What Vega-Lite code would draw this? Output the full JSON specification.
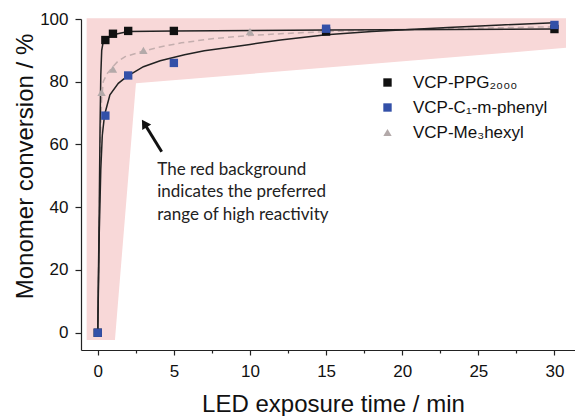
{
  "$schema": "https://vega.github.io/schema/vega-lite/v6.json",
  "width": 494,
  "height": 331,
  "autosize": {"type": "none"},
  "padding": {"left": 81, "top": 19, "right": 0, "bottom": 66},
  "background": "white",
  "config": {
    "view": {"stroke": null},
    "font": "Liberation Sans, Arial, sans-serif",
    "axis": {"grid": false, "domainColor": "#222222", "domainWidth": 1.2, "tickColor": "#222222", "tickWidth": 1.2, "labelColor": "#111111", "titleColor": "#111111", "labelFont": "Liberation Sans, Arial, sans-serif", "titleFont": "Liberation Sans, Arial, sans-serif", "labelFontSize": 17, "titleFontSize": 24, "titleFontWeight": "normal"}
  },
  "datasets": {
    "bg": [
      {"t": -0.73, "lo": -2.3, "hi": 100.2},
      {"t": 1.13, "lo": -2.3, "hi": 100.2},
      {"t": 2.51, "lo": 79.5, "hi": 100.2},
      {"t": 30.76, "lo": 90.8, "hi": 100.2}
    ],
    "fits": [
      {"curve": "ppg", "t": 0, "v": 0},
      {"curve": "ppg", "t": 0.05, "v": 20},
      {"curve": "ppg", "t": 0.1, "v": 40},
      {"curve": "ppg", "t": 0.15, "v": 65},
      {"curve": "ppg", "t": 0.2, "v": 82},
      {"curve": "ppg", "t": 0.26, "v": 90},
      {"curve": "ppg", "t": 0.35, "v": 92.5},
      {"curve": "ppg", "t": 0.5, "v": 93.5},
      {"curve": "ppg", "t": 1, "v": 95},
      {"curve": "ppg", "t": 2, "v": 96},
      {"curve": "ppg", "t": 5, "v": 96.2},
      {"curve": "ppg", "t": 15, "v": 96.5},
      {"curve": "ppg", "t": 30, "v": 96.8},
      {"curve": "phenyl", "t": 0, "v": 0},
      {"curve": "phenyl", "t": 0.05, "v": 16},
      {"curve": "phenyl", "t": 0.1, "v": 32},
      {"curve": "phenyl", "t": 0.2, "v": 52},
      {"curve": "phenyl", "t": 0.3, "v": 63},
      {"curve": "phenyl", "t": 0.45, "v": 69.5},
      {"curve": "phenyl", "t": 0.8, "v": 75.8},
      {"curve": "phenyl", "t": 1.35, "v": 79.5},
      {"curve": "phenyl", "t": 1.9, "v": 81.6},
      {"curve": "phenyl", "t": 3, "v": 84.8},
      {"curve": "phenyl", "t": 4.1, "v": 86.7},
      {"curve": "phenyl", "t": 5.7, "v": 88.6},
      {"curve": "phenyl", "t": 7, "v": 89.9},
      {"curve": "phenyl", "t": 8.7, "v": 91},
      {"curve": "phenyl", "t": 10, "v": 91.9},
      {"curve": "phenyl", "t": 12, "v": 93.3},
      {"curve": "phenyl", "t": 15, "v": 95},
      {"curve": "phenyl", "t": 18, "v": 96},
      {"curve": "phenyl", "t": 23, "v": 97.3},
      {"curve": "phenyl", "t": 26.5, "v": 98.1},
      {"curve": "phenyl", "t": 30, "v": 98.8},
      {"curve": "hexyl", "t": 0, "v": 0},
      {"curve": "hexyl", "t": 0.05, "v": 18},
      {"curve": "hexyl", "t": 0.1, "v": 36},
      {"curve": "hexyl", "t": 0.17, "v": 60},
      {"curve": "hexyl", "t": 0.25, "v": 74},
      {"curve": "hexyl", "t": 0.36, "v": 80},
      {"curve": "hexyl", "t": 0.6, "v": 82.5},
      {"curve": "hexyl", "t": 0.91, "v": 84.3},
      {"curve": "hexyl", "t": 1.3, "v": 86.4},
      {"curve": "hexyl", "t": 1.8, "v": 88},
      {"curve": "hexyl", "t": 2.95, "v": 89.7},
      {"curve": "hexyl", "t": 4, "v": 91},
      {"curve": "hexyl", "t": 5.5, "v": 92.4},
      {"curve": "hexyl", "t": 7.5, "v": 93.7},
      {"curve": "hexyl", "t": 9.8, "v": 94.7},
      {"curve": "hexyl", "t": 12, "v": 95.3},
      {"curve": "hexyl", "t": 15, "v": 96},
      {"curve": "hexyl", "t": 20, "v": 96.6},
      {"curve": "hexyl", "t": 25, "v": 97.1},
      {"curve": "hexyl", "t": 30, "v": 97.5}
    ],
    "pts": [
      {"series": "VCP-PPG₂₀₀₀", "t": 0, "v": 0},
      {"series": "VCP-PPG₂₀₀₀", "t": 0.5, "v": 93.3},
      {"series": "VCP-PPG₂₀₀₀", "t": 1, "v": 95.3},
      {"series": "VCP-PPG₂₀₀₀", "t": 2, "v": 96.2},
      {"series": "VCP-PPG₂₀₀₀", "t": 5, "v": 96.2},
      {"series": "VCP-PPG₂₀₀₀", "t": 15, "v": 96},
      {"series": "VCP-PPG₂₀₀₀", "t": 30, "v": 96.8},
      {"series": "VCP-Me₃hexyl", "t": 0.25, "v": 76.6},
      {"series": "VCP-Me₃hexyl", "t": 1, "v": 84},
      {"series": "VCP-Me₃hexyl", "t": 3, "v": 90},
      {"series": "VCP-Me₃hexyl", "t": 10, "v": 96},
      {"series": "VCP-C₁-m-phenyl", "t": 0, "v": 0},
      {"series": "VCP-C₁-m-phenyl", "t": 0.5, "v": 69.2},
      {"series": "VCP-C₁-m-phenyl", "t": 2, "v": 82},
      {"series": "VCP-C₁-m-phenyl", "t": 5, "v": 86},
      {"series": "VCP-C₁-m-phenyl", "t": 15, "v": 96.9},
      {"series": "VCP-C₁-m-phenyl", "t": 30, "v": 98.1}
    ],
    "arrow": [
      {"t": 4.2, "v": 57.7, "t2": 3.06, "v2": 66.7}
    ],
    "note": [
      {"t": 3.91, "v": 50.3, "label": "The red background\nindicates the preferred\nrange of high reactivity"}
    ]
  },
  "layer": [
    {
      "data": {"name": "bg"},
      "mark": {"type": "area", "color": "#f8d8d8", "opacity": 1, "interpolate": "linear"},
      "encoding": {
        "x": {"field": "t", "type": "quantitative", "scale": {"domain": [-1.1, 31.35], "nice": false, "zero": false},
          "axis": {
            "values": [0, 2.5, 5, 7.5, 10, 12.5, 15, 17.5, 20, 22.5, 25, 27.5, 30],
            "labelExpr": "datum.value % 5 === 0 ? datum.label : ''",
            "tickSize": {"condition": {"test": "datum.value % 5 === 0", "value": 5}, "value": 3},
            "labelPadding": 8,
            "title": "LED exposure time / min",
            "titleX": 252, "titleY": 61, "titleAlign": "center", "titleBaseline": "alphabetic", "titleAnchor": null
          }
        },
        "y": {"field": "lo", "type": "quantitative", "scale": {"domain": [-5.5, 100], "nice": false, "zero": false},
          "axis": {
            "values": [0, 10, 20, 30, 40, 50, 60, 70, 80, 90, 100],
            "labelExpr": "datum.value % 20 === 0 ? datum.label : ''",
            "tickSize": {"condition": {"test": "datum.value % 20 === 0", "value": 6}, "value": 3},
            "labelPadding": 7,
            "title": "Monomer conversion / %",
            "titleX": -56, "titleY": 147, "titleAngle": -90, "titleAlign": "center", "titleBaseline": "middle", "titleAnchor": null
          }
        },
        "y2": {"field": "hi"}
      }
    },
    {
      "data": {"name": "fits"},
      "transform": [{"filter": "datum.curve === 'hexyl'"}],
      "mark": {"type": "line", "color": "#c4aeae", "strokeWidth": 1.5, "strokeDash": [6, 4]},
      "encoding": {
        "x": {"field": "t", "type": "quantitative"},
        "y": {"field": "v", "type": "quantitative"}
      }
    },
    {
      "data": {"name": "fits"},
      "transform": [{"filter": "datum.curve !== 'hexyl'"}],
      "mark": {"type": "line", "color": "#222222", "strokeWidth": 1.5},
      "encoding": {
        "x": {"field": "t", "type": "quantitative"},
        "y": {"field": "v", "type": "quantitative"},
        "detail": {"field": "curve"}
      }
    },
    {
      "data": {"name": "pts"},
      "mark": {"type": "point", "filled": true, "opacity": 1, "strokeWidth": 0},
      "encoding": {
        "x": {"field": "t", "type": "quantitative"},
        "y": {"field": "v", "type": "quantitative"},
        "color": {"field": "series", "type": "nominal",
          "scale": {"domain": ["VCP-PPG₂₀₀₀", "VCP-C₁-m-phenyl", "VCP-Me₃hexyl"], "range": ["#111111", "#3350a8", "#b3a9a9"]},
          "legend": {"title": null, "orient": "none", "legendX": 298, "legendY": 55, "padding": 0, "labelFont": "Liberation Sans, Arial, sans-serif", "labelFontSize": 17, "labelColor": "#111111", "labelOffset": 17, "rowPadding": 7, "symbolSize": 36, "symbolStrokeWidth": 0}
        },
        "shape": {"field": "series", "type": "nominal",
          "scale": {"domain": ["VCP-PPG₂₀₀₀", "VCP-C₁-m-phenyl", "VCP-Me₃hexyl"], "range": ["square", "square", "triangle-up"]},
          "legend": {"title": null, "orient": "none", "legendX": 298, "legendY": 55, "padding": 0, "labelFont": "Liberation Sans, Arial, sans-serif", "labelFontSize": 17, "labelColor": "#111111", "labelOffset": 17, "rowPadding": 7, "symbolSize": 36, "symbolStrokeWidth": 0}
        },
        "size": {"field": "series", "type": "nominal",
          "scale": {"domain": ["VCP-PPG₂₀₀₀", "VCP-C₁-m-phenyl", "VCP-Me₃hexyl"], "range": [70, 70, 95]},
          "legend": null
        }
      }
    },
    {
      "data": {"name": "arrow"},
      "mark": {"type": "rule", "color": "#111111", "strokeWidth": 3},
      "encoding": {
        "x": {"field": "t", "type": "quantitative"},
        "y": {"field": "v", "type": "quantitative"},
        "x2": {"field": "t2"},
        "y2": {"field": "v2"}
      }
    },
    {
      "data": {"name": "arrow"},
      "mark": {"type": "point", "shape": "triangle-up", "filled": true, "color": "#111111", "size": 110, "angle": 328, "opacity": 1},
      "encoding": {
        "x": {"field": "t2", "type": "quantitative"},
        "y": {"field": "v2", "type": "quantitative"}
      }
    },
    {
      "data": {"name": "note"},
      "mark": {"type": "text", "align": "left", "baseline": "alphabetic", "font": "Lato", "fontSize": 17, "lineHeight": 22.3, "lineBreak": "\n", "color": "#222222"},
      "encoding": {
        "x": {"field": "t", "type": "quantitative"},
        "y": {"field": "v", "type": "quantitative"},
        "text": {"field": "label"}
      }
    }
  ]
}
